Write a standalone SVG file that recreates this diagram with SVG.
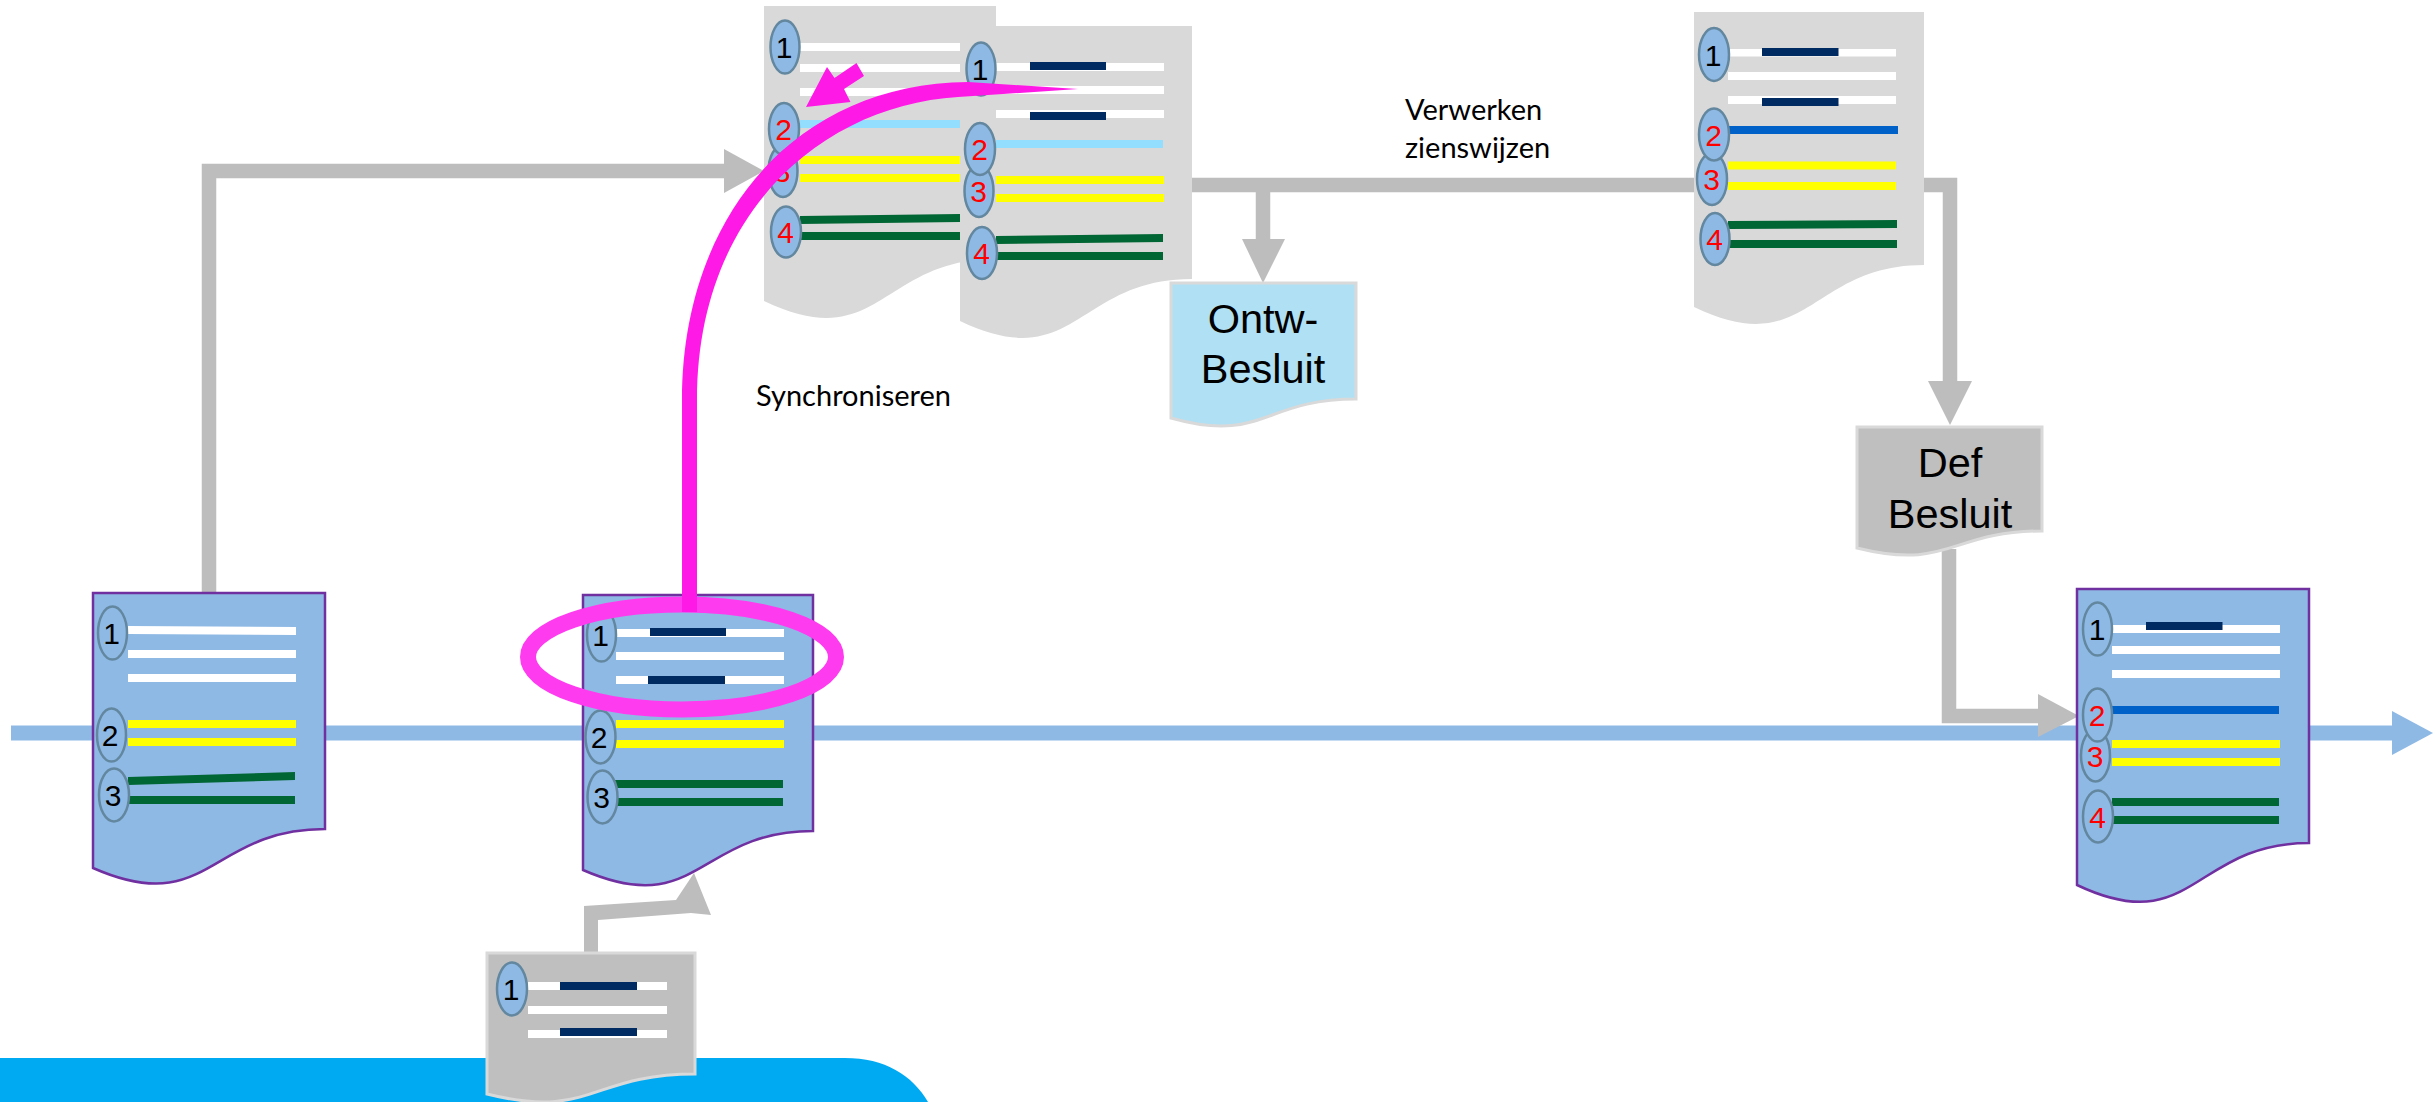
<svg xmlns="http://www.w3.org/2000/svg" width="2433" height="1102" viewBox="0 0 2433 1102">
<style>
.w{fill:#fff}.n{fill:#002B62}.y{fill:#FFFF00}.g{fill:#006633}.l{fill:#93DDFF}.b{fill:#0061C8}
.pb{fill:#8EB9E5;stroke:#7030A0;stroke-width:2.5}
.pg{fill:#D9D9D9}
.ps{fill:#BFBFBF;stroke:#D9D9D9;stroke-width:3}
.e{fill:#8EB9E5;stroke:#62879F;stroke-width:2.5}
.d{font-family:"Liberation Sans",Arial,sans-serif;font-size:30px;text-anchor:middle;fill:#000}
.r{fill:#FF0000}
.t{font-family:"Liberation Sans",Arial,sans-serif;font-size:41.5px;text-anchor:middle;fill:#000}
.c{font-family:Lato,"Open Sans",sans-serif;font-size:29px;fill:#000}
.sl{fill:none;stroke:#BDBDBD;stroke-width:14.5}
.ah{fill:#BDBDBD}
</style>
<path id="footer-band" d="M0 1058H845C885 1058 912 1075 928 1102H0Z" fill="#00AAF3"/>
<g id="connectors">
<path id="timeline" d="M11 733H2395" fill="none" stroke="#8EB9E5" stroke-width="15"/>
<polygon points="2392,711 2433,733 2392,755" fill="#8EB9E5"/>
<path class="sl" d="M209 592V171H726"/>
<polygon class="ah" points="724,149 764,171 724,193"/>
<path class="sl" d="M1192 185H1950V383"/>
<polygon class="ah" points="1928,381 1972,381 1950,425"/>
<path class="sl" d="M1263 185V241"/>
<polygon class="ah" points="1242,239 1285,239 1263,283"/>
<path class="sl" d="M1949 549V716H2040"/>
<polygon class="ah" points="2038,694 2079,716 2038,737"/>
<polygon class="ah" points="584,952 584,906 676,900 694,873 711,915 691,913 598,920 598,952"/>
</g>
<g id="doc-a">
<path class="pb" d="M93 593H325V829C209 829 209 919 93 868Z"/>
<polygon class="w" points="128,626 296,627 296,635 128,634"/><rect class="w" x="128" y="650" width="168" height="8"/><rect class="w" x="128" y="674" width="168" height="8"/>
<rect class="y" x="128" y="720" width="168" height="8"/><rect class="y" x="128" y="738" width="168" height="8"/>
<polygon class="g" points="128,777 295,772 295,780 128,785"/><rect class="g" x="128" y="796" width="167" height="8"/>
<ellipse class="e" cx="112.500" cy="633" rx="14.500" ry="26.500"/><text class="d" x="111.500" y="644">1</text>
<ellipse class="e" cx="111.500" cy="735" rx="14.500" ry="26.500"/><text class="d" x="110" y="746">2</text>
<ellipse class="e" cx="114" cy="795" rx="15" ry="26.500"/><text class="d" x="113" y="806">3</text>
</g>
<g id="doc-b">
<path class="pb" d="M583 595H813V831C698 831 698 920 583 870Z"/>
<rect class="w" x="616" y="629" width="168" height="8"/><rect class="w" x="616" y="652" width="168" height="8"/><rect class="w" x="616" y="676" width="168" height="8"/>
<rect class="n" x="650" y="628" width="76" height="8"/><rect class="n" x="648" y="676" width="77" height="8"/>
<rect class="y" x="616" y="720" width="168" height="8"/><rect class="y" x="616" y="740" width="168" height="8"/>
<rect class="g" x="615" y="780" width="168" height="8"/><rect class="g" x="615" y="798" width="168" height="8"/>
<ellipse class="e" cx="601.500" cy="635" rx="14.500" ry="26.500"/><text class="d" x="600.500" y="646">1</text>
<ellipse class="e" cx="600.500" cy="737" rx="15" ry="26.500"/><text class="d" x="599" y="748">2</text>
<ellipse class="e" cx="602.500" cy="797" rx="15" ry="26.500"/><text class="d" x="601.500" y="808">3</text>
</g>
<g id="doc-c">
<path class="ps" d="M487 953H695V1074C591 1074 591 1120 487 1094Z"/>
<rect class="w" x="528" y="982" width="139" height="8"/><rect class="w" x="528" y="1006" width="139" height="8"/><rect class="w" x="528" y="1030" width="139" height="8"/>
<rect class="n" x="560" y="982" width="77" height="8"/><rect class="n" x="560" y="1028" width="77" height="8"/>
<ellipse class="e" cx="512" cy="989" rx="15" ry="26.500"/><text class="d" x="511" y="1000">1</text>
</g>
<g id="doc-d">
<path class="pg" d="M764 6H996V259C880 259 880 356 764 301Z"/>
<rect class="w" x="800" y="43" width="160" height="8"/><rect class="w" x="800" y="64" width="160" height="8"/><rect class="w" x="800" y="88" width="160" height="8"/>
<rect class="l" x="800" y="120" width="160" height="8"/>
<rect class="y" x="800" y="156" width="160" height="8"/><rect class="y" x="800" y="174" width="160" height="8"/>
<polygon class="g" points="800,216 960,214 960,222 800,224"/><rect class="g" x="800" y="232" width="160" height="8"/>
<ellipse class="e" cx="785" cy="47" rx="14.500" ry="26.500"/><text class="d" x="784" y="58">1</text>
<ellipse class="e" cx="783" cy="171" rx="14.500" ry="26"/><text class="d r" x="782" y="182">3</text>
<ellipse class="e" cx="784" cy="129" rx="15" ry="26"/><text class="d r" x="783.500" y="140">2</text>
<ellipse class="e" cx="786" cy="232" rx="15" ry="25.500"/><text class="d r" x="785.500" y="243">4</text>
</g>
<g id="doc-e">
<path class="pg" d="M960 26H1192V279C1076 279 1076 376 960 321Z"/>
<rect class="w" x="996" y="63" width="168" height="8"/><rect class="w" x="996" y="86" width="168" height="8"/><rect class="w" x="996" y="110" width="168" height="8"/>
<rect class="n" x="1030" y="62" width="76" height="8"/><rect class="n" x="1030" y="112" width="76" height="8"/>
<rect class="l" x="996" y="140" width="167" height="8"/>
<rect class="y" x="996" y="176" width="168" height="8"/><rect class="y" x="996" y="194" width="168" height="8"/>
<polygon class="g" points="996,236 1163,234 1163,242 996,244"/><rect class="g" x="996" y="252" width="167" height="8"/>
<ellipse class="e" cx="981" cy="69" rx="14.500" ry="26.500"/><text class="d" x="980" y="80">1</text>
<ellipse class="e" cx="979" cy="191" rx="14.500" ry="26"/><text class="d r" x="978.500" y="202">3</text>
<ellipse class="e" cx="980" cy="149" rx="15" ry="26"/><text class="d r" x="979.500" y="160">2</text>
<ellipse class="e" cx="982" cy="253" rx="15" ry="26"/><text class="d r" x="981.500" y="264">4</text>
</g>
<g id="doc-f">
<path class="pg" d="M1694 12H1924V265C1809 265 1809 362 1694 307Z"/>
<rect class="w" x="1728" y="49" width="168" height="7.500"/><rect class="w" x="1728" y="72" width="168" height="8"/><rect class="w" x="1728" y="96" width="168" height="8"/>
<rect class="n" x="1762" y="48" width="76.500" height="8"/><rect class="n" x="1762" y="98" width="76.500" height="8"/>
<rect class="b" x="1729" y="126" width="169" height="8"/>
<rect class="y" x="1728" y="161.500" width="168" height="8"/><rect class="y" x="1728" y="182" width="168" height="8"/>
<polygon class="g" points="1728,221 1897,220 1897,228 1728,229"/><rect class="g" x="1728" y="240" width="169" height="8"/>
<ellipse class="e" cx="1714" cy="54.500" rx="15" ry="26.500"/><text class="d" x="1713" y="65.500">1</text>
<ellipse class="e" cx="1712" cy="179" rx="15" ry="26"/><text class="d r" x="1711.500" y="190">3</text>
<ellipse class="e" cx="1714" cy="134.500" rx="15" ry="26"/><text class="d r" x="1713.500" y="145.500">2</text>
<ellipse class="e" cx="1715" cy="239" rx="14.500" ry="26"/><text class="d r" x="1714.500" y="250">4</text>
</g>
<g id="doc-ontw">
<path d="M1171 283H1356V399C1263 399 1263 444 1171 418Z" fill="#B0E0F3" stroke="#D9D9D9" stroke-width="3"/>
<text class="t" x="1263" y="333">Ontw-</text><text class="t" x="1263" y="383">Besluit</text>
</g>
<g id="doc-def">
<path class="ps" d="M1857 427H2042V531C1950 531 1950 571 1857 548Z"/>
<text class="t" x="1950" y="477">Def</text><text class="t" x="1950" y="528">Besluit</text>
</g>
<g id="doc-final">
<path class="pb" d="M2077 589H2309V843C2193 843 2193 940 2077 885Z"/>
<rect class="w" x="2112" y="625" width="168" height="8"/><rect class="w" x="2112" y="646" width="168" height="8"/><rect class="w" x="2112" y="670" width="168" height="8"/>
<rect class="n" x="2146" y="622" width="76.500" height="8"/>
<rect class="b" x="2112" y="706" width="167" height="8"/>
<rect class="y" x="2112" y="740" width="168" height="8"/><rect class="y" x="2112" y="758" width="168" height="8"/>
<rect class="g" x="2112" y="798" width="167" height="8"/><rect class="g" x="2112" y="816" width="167" height="8"/>
<ellipse class="e" cx="2097.500" cy="629" rx="14.500" ry="26.500"/><text class="d" x="2097" y="640">1</text>
<ellipse class="e" cx="2095.500" cy="755.500" rx="14.500" ry="26"/><text class="d r" x="2095" y="766.500">3</text>
<ellipse class="e" cx="2097.500" cy="715" rx="14.500" ry="26.500"/><text class="d r" x="2097" y="726">2</text>
<ellipse class="e" cx="2098" cy="816.500" rx="15" ry="26"/><text class="d r" x="2097.500" y="827.500">4</text>
</g>
<text id="label-sync" class="c" x="756" y="406">Synchroniseren</text>
<text id="label-verwerken" class="c"><tspan x="1405" y="120">Verwerken</tspan><tspan x="1405" y="158">zienswijzen</tspan></text>
<g id="highlight">
<ellipse cx="682" cy="657" rx="154" ry="52.500" fill="none" stroke="#FF3BEF" stroke-width="16"/>
<path d="M682 612V400C682 220 792 84 968 82L1078 89L958 97C825 105 697 210 697 400V612Z" fill="#FF19E6"/>
<polygon points="856.500,63 864,76 844,89 850.500,102 806,107 827,67 834.500,78" fill="#FF19E6"/>
</g>
</svg>
